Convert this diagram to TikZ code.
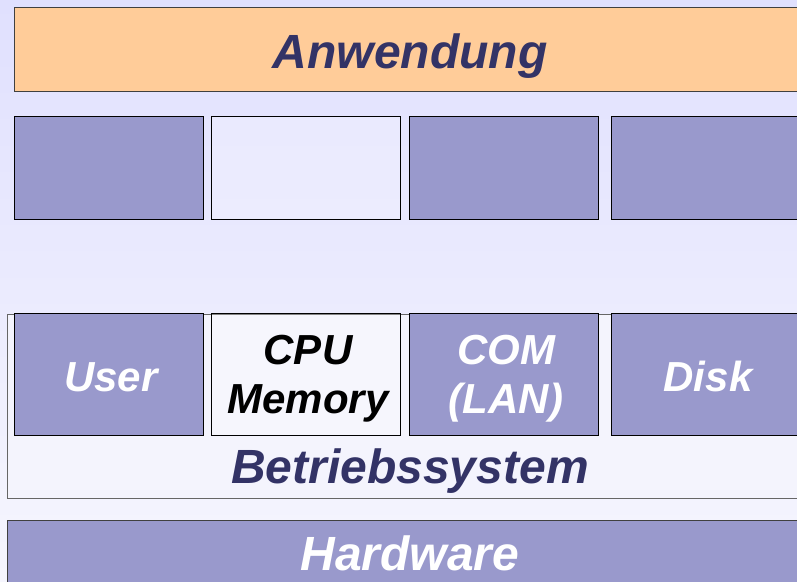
\documentclass[tikz,border=0pt]{standalone}
\usepackage{fontspec}
\setmainfont{Liberation Sans}
\definecolor{bgtop}{RGB}{224,224,254}
\definecolor{bgbot}{RGB}{246,246,254}
\definecolor{appfill}{RGB}{255,204,153}
\definecolor{purp}{RGB}{153,153,204}
\definecolor{navy}{RGB}{51,51,102}
\definecolor{osfill}{RGB}{244,244,253}
\begin{document}
\begin{tikzpicture}[x=1pt,y=-1pt,
  layer/.style={draw=black!75,line width=1.1pt,anchor=north west,inner sep=0pt},
  cell/.style={draw=black,line width=1.1pt,anchor=north west,inner sep=0pt,minimum width=189pt,minimum height=103pt},
  lowcell/.style={cell,minimum height=122pt},
  dark/.style={fill=purp},
  light/.style={fill=white,fill opacity=0.2},
  bigtxt/.style={font=\fontsize{48}{56}\selectfont\bfseries\itshape,anchor=base,inner sep=0pt},
  smalltxt/.style={font=\fontsize{42}{49}\selectfont\bfseries\itshape,anchor=base,inner sep=0pt,align=center}]
\useasboundingbox (0,0) rectangle (797,581);
\clip (0,0) rectangle (797,581);
\shade[top color=bgtop,bottom color=bgbot] (0,0) rectangle (797,581);
% Anwendung layer
\node[layer,fill=appfill,minimum width=792pt,minimum height=84pt] (app) at (14,7) {};
\node[bigtxt,text=navy] (apptxt) at (410,68) {Anwendung};
% upper row
\node[cell,dark] (u1) at (14,116) {};
\node[cell,light] (u2) at (211,116) {};
\node[cell,dark] (u3) at (409,116) {};
\node[cell,dark] (u4) at (611,116) {};
% Betriebssystem layer
\node[layer,draw=black!60,fill=osfill,minimum width=806pt,minimum height=184pt] (os) at (7,314) {};
\node[lowcell,dark] (user) at (14,313) {};
\node[lowcell,light] (cpu) at (211,313) {};
\node[lowcell,dark] (com) at (409,313) {};
\node[lowcell,dark] (disk) at (611,313) {};
\node[smalltxt,text=white] (usertxt) at (111,391) {User};
\node[smalltxt,text=black] (cputxt) at (308,364) {CPU};
\node[smalltxt,text=black] (memtxt) at (308,413) {Memory};
\node[smalltxt,text=white] (comtxt) at (506,364) {COM};
\node[smalltxt,text=white] (lantxt) at (506,413) {(LAN)};
\node[smalltxt,text=white] (disktxt) at (708,391) {Disk};
\node[bigtxt,text=navy] (ostxt) at (410,483) {Betriebssystem};
% Hardware layer
\node[layer,fill=purp,minimum width=806pt,minimum height=80pt] (hw) at (7,520) {};
\node[bigtxt,text=white] (hwtxt) at (410,570) {Hardware};
\end{tikzpicture}
\end{document}
